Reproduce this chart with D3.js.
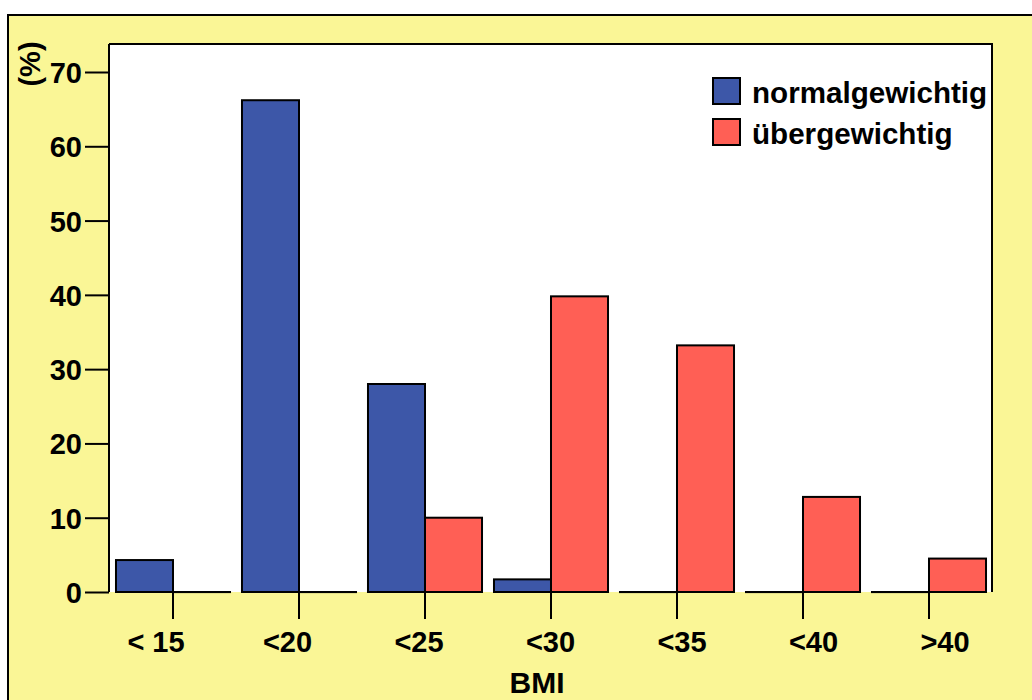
<!DOCTYPE html>
<html>
<head>
<meta charset="utf-8">
<script src="https://cdn.jsdelivr.net/npm/d3@7"></script>
<style>
	body { margin: 0; background: #fff; }
	svg text { font-family: 'Liberation Sans', Arial, sans-serif; font-weight: bold; fill: #000; }
</style>
</head>
<body>
<svg id="chart"></svg>
<script>
// data
const categories = ['< 15', '<20', '<25', '<30', '<35', '<40', '>40']
const seriesNames = ['normalgewichtig', 'übergewichtig']
const normal = [4.3, 66.2, 28.0, 1.7, 0, 0, 0]
const over = [0, 0, 10.0, 39.8, 33.2, 12.8, 4.5]
const yTicks = [0, 10, 20, 30, 40, 50, 60, 70]

const colors = ['#3d57a8', '#ff5f55']
const yellow = '#faf696'

const outerWidth = 1032
const outerHeight = 700

// plot area
const plot = { left: 109, right: 992, top: 44, bottom: 592 }

const svg = d3.select('#chart')
	.attr('width', outerWidth)
	.attr('height', outerHeight)

// yellow frame
svg.append('rect')
	.attr('x', 8)
	.attr('y', 15)
	.attr('width', 1100)
	.attr('height', 800)
	.attr('fill', yellow)
	.attr('stroke', '#000')
	.attr('stroke-width', 2)

// white plot background
svg.append('rect')
	.attr('x', plot.left)
	.attr('y', plot.top)
	.attr('width', plot.right - plot.left)
	.attr('height', plot.bottom - plot.top)
	.attr('fill', '#fff')

// scales
const x0 = d3.scaleBand()
	.domain(categories)
	.range([110, plot.right])
	.paddingInner(0.095)
	.paddingOuter(0.0475)

const x1 = d3.scaleBand()
	.domain(seriesNames)
	.range([0, x0.bandwidth()])

const y = d3.scaleLinear()
	.domain([0, 70])
	.range([plot.bottom, 72])

// tick labels below the axis sit on their own, slightly wider spacing
const xLabel = d3.scalePoint()
	.domain(categories)
	.range([156, 945])

// frame lines top and right
svg.append('path')
	.attr('d', `M${plot.left},${plot.top}H${plot.right}V${plot.bottom}`)
	.attr('fill', 'none')
	.attr('stroke', '#000')
	.attr('stroke-width', 2)

// bars (zero values still show as a flat outline)
const rows = categories.map((c, i) => ({ cat: c, values: [normal[i], over[i]] }))

svg.append('g')
	.selectAll('g')
	.data(rows)
	.join('g')
		.attr('transform', d => `translate(${x0(d.cat)},0)`)
	.selectAll('rect')
	.data(d => d.values.map((v, i) => ({ key: seriesNames[i], value: v, color: colors[i] })))
	.join('rect')
		.attr('x', d => x1(d.key))
		.attr('y', d => y(d.value))
		.attr('width', x1.bandwidth())
		.attr('height', d => Math.max(y(0) - y(d.value), 0.1))
		.attr('fill', d => d.color)
		.attr('stroke', '#000')
		.attr('stroke-width', 2)

// y axis
const yAxis = svg.append('g')
	.attr('transform', `translate(${plot.left},0)`)
	.call(d3.axisLeft(y)
		.tickValues(yTicks)
		.tickSize(24)
		.tickPadding(3)
	)
yAxis.select('.domain')
	.attr('d', `M0,${plot.top}V${plot.bottom}`)
	.attr('stroke-width', 2)
yAxis.selectAll('.tick line').attr('stroke-width', 2)
yAxis.selectAll('.tick text')
	.attr('font-size', 29)
	.attr('font-family', null)
	.attr('dy', '0.36em')

// x axis ticks
const xAxis = svg.append('g')
	.attr('transform', `translate(0,${plot.bottom})`)
	.call(d3.axisBottom(x0)
		.tickSize(27)
		.tickFormat('')
	)
xAxis.select('.domain').remove()
xAxis.selectAll('.tick line').attr('stroke-width', 2)

// x tick labels
svg.append('g')
	.selectAll('text')
	.data(categories)
	.join('text')
		.attr('x', d => xLabel(d))
		.attr('y', 652)
		.attr('text-anchor', 'middle')
		.attr('font-size', 29)
		.text(d => d)

// axis titles
svg.append('text')
	.attr('x', 537)
	.attr('y', 693)
	.attr('text-anchor', 'middle')
	.attr('font-size', 30)
	.text('BMI')

svg.append('text')
	.attr('transform', 'translate(40,64) rotate(-90)')
	.attr('text-anchor', 'middle')
	.attr('font-size', 29)
	.text('(%)')

// legend
const legend = svg.append('g')
	.selectAll('g')
	.data(seriesNames)
	.join('g')
		.attr('transform', (d, i) => `translate(713,${78 + i * 41})`)

legend.append('rect')
	.attr('width', 27)
	.attr('height', 26)
	.attr('fill', (d, i) => colors[i])
	.attr('stroke', '#000')
	.attr('stroke-width', 2)

legend.append('text')
	.attr('x', 39)
	.attr('y', 25)
	.attr('font-size', 29.6)
	.text(d => d)
</script>
</body>
</html>
